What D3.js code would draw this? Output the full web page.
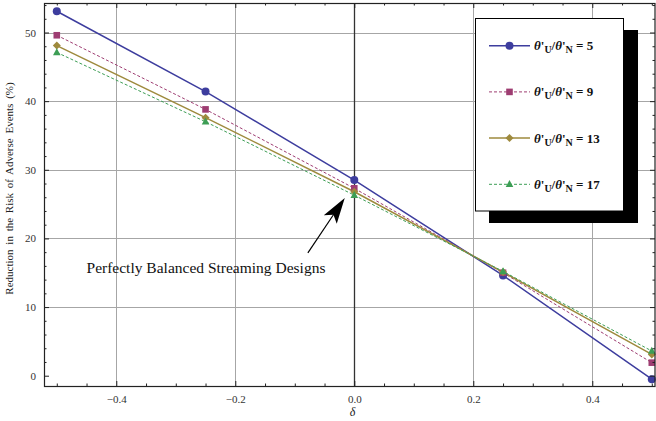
<!DOCTYPE html>
<html>
<head>
<meta charset="utf-8">
<script src="https://cdn.jsdelivr.net/npm/d3@7"></script>
<style>
  body { margin: 0; background: #fff; }
  svg { display: block; font-family: "Liberation Serif", "Times New Roman", serif; }
</style>
</head>
<body>
<svg id="chart" width="656" height="421"></svg>
<script>
"use strict";

/* values */
const deltas = [-0.5, -0.25, 0, 0.25, 0.5];
const ratios = [5, 9, 13, 17];
const reduction5 = [53.1, 41.4, 28.5, 14.6, -0.5];
const reduction9 = [49.6, 38.8, 27.3, 15.0, 1.9];
const reduction13 = [48.1, 37.6, 26.8, 15.1, 3.1];
const reduction17 = [47.1, 37.0, 26.3, 15.2, 3.6];

const xMajor = [-0.4, -0.2, 0, 0.2, 0.4];
const xMinor = d3.range(-0.5, 0.51, 0.05).map((v) => +v.toFixed(2)).filter((v) => !xMajor.includes(v));
const yMajor = [0, 10, 20, 30, 40, 50];
const yMinor = d3.range(0, 55, 2).filter((v) => v % 10 !== 0);
const yGrid = [10, 20, 30, 40, 50];

/* annotation, in data units */
const noteText = "Perfectly Balanced Streaming Designs";
const notePos = [-0.45, 15.0];
const arrowFrom = [-0.078, 17.9];
const arrowTo = [-0.016, 25.9];

const series = [
  { ratio: ratios[0], values: reduction5, color: "#3d3d9e", dash: null, width: 1.5, shape: "circle" },
  { ratio: ratios[1], values: reduction9, color: "#9e3d72", dash: "3,2", width: 1, shape: "square" },
  { ratio: ratios[2], values: reduction13, color: "#9e8a3d", dash: null, width: 1.5, shape: "diamond" },
  { ratio: ratios[3], values: reduction17, color: "#3d9e55", dash: "3,2", width: 1, shape: "triangle" },
];

const svg = d3.select("#chart");
const L = 44, R = 655, T = 3, B = 386;
const x = d3.scaleLinear([-0.5215, 0.5054], [L, R]);
const y = d3.scaleLinear([-1.5, 54.3], [B, T]);

/* -- grid ----------------------------------------------------------------- */
const grid = svg.append("g");
grid.selectAll("line.h").data(yGrid).join("line")
  .attr("x1", L).attr("x2", R)
  .attr("y1", (d) => Math.round(y(d)) + 0.5).attr("y2", (d) => Math.round(y(d)) + 0.5)
  .attr("stroke", "#a6a6a6");
grid.selectAll("line.v").data(xMajor).join("line")
  .attr("y1", T).attr("y2", B)
  .attr("x1", (d) => Math.round(x(d)) + 0.5).attr("x2", (d) => Math.round(x(d)) + 0.5)
  .attr("stroke", (d) => (d === 0 ? "#333" : "#a6a6a6"))
  .attr("stroke-width", (d) => (d === 0 ? 1.3 : 1));

/* -- series --------------------------------------------------------------- */
const line = d3.line().x((d, i) => x(deltas[i])).y((d) => y(d));
const plot = svg.append("g");
for (const s of series) {
  plot.append("path")
    .attr("d", line(s.values))
    .attr("fill", "none")
    .attr("stroke", s.color)
    .attr("stroke-width", s.width)
    .attr("stroke-dasharray", s.dash);
}

function marker(g, shape, cx, cy, color) {
  if (shape === "circle") {
    g.append("circle").attr("cx", cx).attr("cy", cy).attr("r", 4).attr("fill", color);
  } else if (shape === "square") {
    g.append("rect").attr("x", cx - 3.3).attr("y", cy - 3.3).attr("width", 6.6).attr("height", 6.6).attr("fill", color);
  } else if (shape === "diamond") {
    g.append("path").attr("d", `M${cx},${cy - 4}L${cx + 4},${cy}L${cx},${cy + 4}L${cx - 4},${cy}Z`).attr("fill", color);
  } else {
    g.append("path").attr("d", `M${cx},${cy - 4.2}L${cx + 3.8},${cy + 2.8}L${cx - 3.8},${cy + 2.8}Z`).attr("fill", color);
  }
}
for (const s of series) {
  s.values.forEach((v, i) => marker(plot, s.shape, x(deltas[i]), y(v), s.color));
}

/* -- frame and ticks ------------------------------------------------------ */
const tickFont = (g) => g.selectAll("text").attr("font-size", 11).attr("fill", "#333")
  .attr("font-family", "Liberation Serif, serif");
const clean = (g) => g.select(".domain").remove();

svg.append("g").attr("transform", `translate(0,${B})`)
  .call(d3.axisBottom(x).tickValues(xMajor).tickSize(-5).tickPadding(9).tickFormat(d3.format(".1f")))
  .call(clean).call(tickFont);
svg.append("g").attr("transform", `translate(0,${B})`)
  .call(d3.axisBottom(x).tickValues(xMinor).tickSize(-2.5).tickFormat("")).call(clean);
svg.append("g").attr("transform", `translate(0,${T})`)
  .call(d3.axisTop(x).tickValues(xMajor).tickSize(-5).tickFormat("")).call(clean);
svg.append("g").attr("transform", `translate(0,${T})`)
  .call(d3.axisTop(x).tickValues(xMinor).tickSize(-2.5).tickFormat("")).call(clean);
svg.append("g").attr("transform", `translate(${L},0)`)
  .call(d3.axisLeft(y).tickValues(yMajor).tickSize(-5).tickPadding(8).tickFormat(d3.format("d")))
  .call(clean).call(tickFont);
svg.append("g").attr("transform", `translate(${L},0)`)
  .call(d3.axisLeft(y).tickValues(yMinor).tickSize(-2.5).tickFormat("")).call(clean);
svg.append("g").attr("transform", `translate(${R},0)`)
  .call(d3.axisRight(y).tickValues(yMajor).tickSize(-5).tickFormat("")).call(clean);
svg.append("g").attr("transform", `translate(${R},0)`)
  .call(d3.axisRight(y).tickValues(yMinor).tickSize(-2.5).tickFormat("")).call(clean);
svg.selectAll(".tick line").attr("stroke", "#222");

svg.append("rect")
  .attr("x", L + 0.5).attr("y", T + 0.5)
  .attr("width", R - L - 0.5).attr("height", B - T)
  .attr("fill", "none").attr("stroke", "#222").attr("stroke-width", 1.2);

/* -- axis labels ---------------------------------------------------------- */
svg.append("text")
  .attr("transform", `translate(13,${(T + B) / 2 - 6}) rotate(-90)`)
  .attr("text-anchor", "middle")
  .attr("font-size", 11)
  .attr("fill", "#222")
  .style("word-spacing", "2px")
  .text("Reduction in the Risk of Adverse Events (%)");
svg.append("text")
  .attr("x", (L + R) / 2 + 3).attr("y", 416)
  .attr("text-anchor", "middle")
  .attr("font-size", 12)
  .attr("font-style", "italic")
  .attr("fill", "#222")
  .text("δ");

/* -- annotation ----------------------------------------------------------- */
svg.append("text")
  .attr("x", x(notePos[0])).attr("y", y(notePos[1]))
  .attr("font-size", 15.5)
  .attr("fill", "#111")
  .text(noteText);

const ax0 = x(arrowFrom[0]), ay0 = y(arrowFrom[1]);
const ax1 = x(arrowTo[0]), ay1 = y(arrowTo[1]);
const len = Math.hypot(ax1 - ax0, ay1 - ay0);
const ux = (ax1 - ax0) / len, uy = (ay1 - ay0) / len;
const headLen = 26, headHalf = 7.8;
const bx = ax1 - ux * headLen, by = ay1 - uy * headLen;
svg.append("line")
  .attr("x1", ax0).attr("y1", ay0)
  .attr("x2", ax1 - ux * headLen * 0.7).attr("y2", ay1 - uy * headLen * 0.7)
  .attr("stroke", "#000").attr("stroke-width", 1.2);
svg.append("path")
  .attr("d",
    `M${ax1},${ay1}` +
    `L${bx - uy * headHalf},${by + ux * headHalf}` +
    `L${ax1 - ux * headLen * 0.78},${ay1 - uy * headLen * 0.78}` +
    `L${bx + uy * headHalf},${by - ux * headHalf}Z`)
  .attr("fill", "#000");

/* -- legend --------------------------------------------------------------- */
const lg = svg.append("g");
lg.append("rect").attr("x", 489).attr("y", 30).attr("width", 149).attr("height", 193).attr("fill", "#000");
lg.append("rect").attr("x", 475.5).attr("y", 18.5).attr("width", 148).attr("height", 192.5)
  .attr("fill", "#fff").attr("stroke", "#000");

series.forEach((s, i) => {
  const ry = 45.7 + i * 46.2;
  lg.append("line")
    .attr("x1", 489).attr("x2", 530).attr("y1", ry).attr("y2", ry)
    .attr("stroke", s.color).attr("stroke-width", s.width)
    .attr("stroke-dasharray", s.dash);
  marker(lg, s.shape, 509.5, ry, s.color);

  const t = lg.append("text")
    .attr("x", 534).attr("y", ry + 4.5)
    .attr("font-size", 13).attr("font-weight", "bold").attr("fill", "#111");
  t.append("tspan").attr("font-style", "italic").text("θ");
  t.append("tspan").text("'");
  t.append("tspan").attr("dy", 3).attr("font-size", 10).text("U");
  t.append("tspan").attr("dy", -3).text("/");
  t.append("tspan").attr("font-style", "italic").text("θ");
  t.append("tspan").text("'");
  t.append("tspan").attr("dy", 3).attr("font-size", 10).text("N");
  t.append("tspan").attr("dy", -3).text(` = ${s.ratio}`);
});
</script>
</body>
</html>
